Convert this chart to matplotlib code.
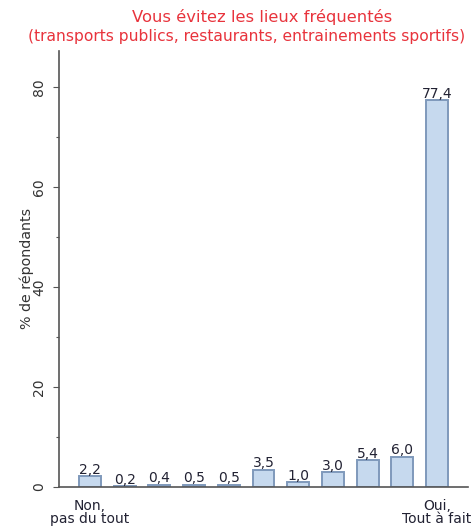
import matplotlib
matplotlib.use("Agg")
import matplotlib.pyplot as plt
from matplotlib.ticker import MultipleLocator
from matplotlib.transforms import Bbox

categories = ["Non,\npas du tout", "", "", "", "", "", "", "", "", "", "Oui,\nTout à fait"]
values = [2.2, 0.2, 0.4, 0.5, 0.5, 3.5, 1.0, 3.0, 5.4, 6.0, 77.4]
title_lines = ["Vous évitez les lieux fréquentés",
               "(transports publics, restaurants, entrainements sportifs)"]
ylabel = "% de répondants"

W, H = 474, 529
fig = plt.figure(figsize=(W / 100, H / 100), dpi=100)
plt.rcParams["font.family"] = ["DejaVu Sans"]

ax_left, ax_right = 59, 468
ax_top, ax_bottom = 51, 487
ax = fig.add_axes([ax_left / W, 1 - ax_bottom / H,
                   (ax_right - ax_left) / W, (ax_bottom - ax_top) / H])

x = list(range(len(values)))
ax.bar(x, values, width=0.63, color="#c6d9ee", edgecolor="#7f99bb", linewidth=1.4)

for xi, v in zip(x, values):
    ax.text(xi, v - 0.1, f"{v:.1f}".replace(".", ","), ha="center", va="bottom",
            fontsize=10, color="#222233")

ax.set_xlim(-0.89, 10.89)
ax.set_ylim(0, 87.2)
ax.yaxis.set_major_locator(MultipleLocator(20))
ax.yaxis.set_minor_locator(MultipleLocator(10))
ax.set_xticks(x)
ax.set_xticklabels(categories, fontsize=10, color="#222233", linespacing=0.9)
ax.tick_params(axis="x", length=0, pad=9)
ax.tick_params(axis="y", which="major", length=4, width=0.8, color="#555555",
               labelsize=10, labelcolor="#333333", pad=5)
ax.tick_params(axis="y", which="minor", length=2.5, width=0.8, color="#555555")
for lbl in ax.get_yticklabels():
    lbl.set_rotation(90)
    lbl.set_va("center")

for side in ("top", "right"):
    ax.spines[side].set_visible(False)
ax.spines["left"].set_color("#555555")
ax.spines["bottom"].set_color("#555555")
ax.spines["left"].set_linewidth(1.2)
ax.spines["bottom"].set_linewidth(1.2)

fig.text(27 / W, 1 - 268 / H, ylabel, rotation=90, ha="center", va="center",
         fontsize=10.3, color="#333333")

# Title: the second line runs past the drawing area and is clipped there
title_clip = Bbox.from_extents(0, 0, 464, H)
fig.text(262 / W, 1 - 17 / H, title_lines[0], ha="center", va="center",
         fontsize=11.8, color="#e8333c")
t2 = fig.text(28 / W, 1 - 36 / H, title_lines[1], ha="left", va="center",
              fontsize=11.2, color="#e8333c")
t2.set_clip_box(title_clip)
t2.set_clip_on(True)

fig.savefig("out.png", dpi=100)
